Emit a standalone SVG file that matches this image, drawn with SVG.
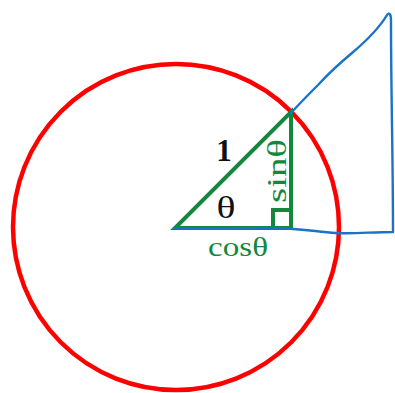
<svg xmlns="http://www.w3.org/2000/svg" width="395" height="393" viewBox="0 0 395 393">
<style>
.lbl{font-family:"Liberation Serif","DejaVu Serif",serif;}
.grn{fill:#13883b;}
.blk{fill:#111;}
.gline{fill:none;stroke:#13883b;stroke-width:4;stroke-linejoin:miter;}
</style>
<rect width="395" height="393" fill="#fff"/>
<g id="unit-circle">
<circle cx="176" cy="227" r="163" fill="none" stroke="#ff0000" stroke-width="4.5"/>
</g>
<g id="triangle">
<polygon class="gline" points="175,228 291,228 291,112"/>
<polyline class="gline" stroke-width="3" points="273,228 273,210 291,210"/>
</g>
<g id="connectors">
<path d="M291,113 C300,103 310,93 318,85 C328,74 340,63 352,53 C365,42 378,30 387,15 C389,12 391,14 391,20 C391,90 393,160 393,232 C372,232 354,234 336,233 C312,231 296,228 270,228 C240,228 200,230 174,228" fill="none" stroke="#1a73c8" stroke-width="2.4" stroke-linecap="round" stroke-linejoin="round"/>
</g>
<g id="label-hyp">
<text class="lbl blk" x="224" y="161" font-size="31" font-weight="bold" text-anchor="middle">1</text>
</g>
<g id="label-theta">
<text class="lbl blk" x="226" y="218" font-size="31" text-anchor="middle" textLength="19" lengthAdjust="spacingAndGlyphs">θ</text>
</g>
<g id="label-cos">
<text class="lbl grn" x="208" y="256" font-size="28" textLength="60" lengthAdjust="spacingAndGlyphs">cosθ</text>
</g>
<g id="label-sin">
<text class="lbl grn" transform="translate(286,171) rotate(-90)" x="0" y="0" font-size="28" text-anchor="middle" textLength="64" lengthAdjust="spacingAndGlyphs">sinθ</text>
</g>
</svg>
